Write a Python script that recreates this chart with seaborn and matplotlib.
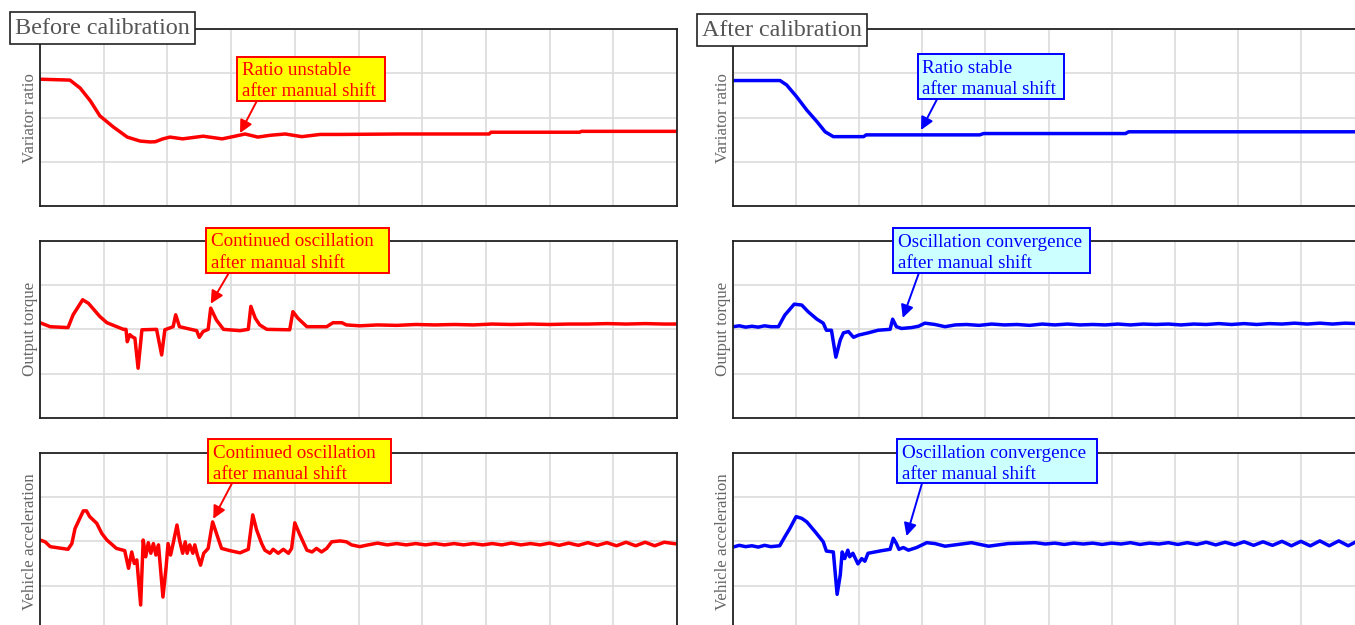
import matplotlib
matplotlib.use("Agg")
import matplotlib.pyplot as plt
from matplotlib.patches import Rectangle
import seaborn as sns
import pandas as pd

# ---------------- data (time in s, values in grid units) ----------------
before_ratio_t = [0, 0.47, 0.63, 0.79, 0.94, 1.15, 1.37, 1.57, 1.73, 1.81, 1.93, 2.04, 2.24, 2.56,
                  2.86, 3.06, 3.22, 3.42, 3.61, 3.85, 4.11, 4.40, 4.71, 5.65, 7.05, 7.08, 8.47, 8.50, 10.0]
before_ratio_v = [2.87, 2.85, 2.67, 2.38, 2.04, 1.79, 1.56, 1.47, 1.45, 1.455, 1.52, 1.56, 1.52, 1.58,
                  1.52, 1.58, 1.63, 1.56, 1.60, 1.63, 1.57, 1.62, 1.62, 1.63, 1.63, 1.67, 1.67, 1.69, 1.69]

before_torque_t = [0, 0.16, 0.44, 0.52, 0.67, 0.76, 0.94, 1.05, 1.31, 1.35, 1.37, 1.41, 1.45, 1.49, 1.54,
                   1.60, 1.83, 1.91, 1.96, 2.09, 2.13, 2.19, 2.46, 2.50, 2.56, 2.64, 2.68, 2.77, 2.88,
                   3.14, 3.27, 3.31, 3.38, 3.45, 3.56, 3.92, 3.97, 4.05, 4.19, 4.50, 4.60, 4.74, 4.81,
                   5.02, 5.3, 5.6, 5.9, 6.2, 6.5, 6.8, 7.1, 7.4, 7.7, 8.0, 8.3, 8.6, 8.9, 9.2, 9.5, 9.8, 10.0]
before_torque_v = [2.15, 2.06, 2.04, 2.33, 2.67, 2.59, 2.29, 2.15, 2.00, 2.00, 1.72, 1.88, 1.83, 1.80, 1.12,
                   1.99, 2.00, 1.42, 1.99, 2.06, 2.33, 2.06, 1.97, 1.82, 1.95, 2.00, 2.48, 2.21, 2.00,
                   1.97, 2.00, 2.52, 2.25, 2.10, 2.00, 1.99, 2.40, 2.25, 2.06, 2.06, 2.15, 2.15, 2.10,
                   2.08, 2.10, 2.09, 2.11, 2.10, 2.11, 2.10, 2.12, 2.11, 2.12, 2.11, 2.12, 2.12, 2.13, 2.12, 2.13, 2.12, 2.12]

before_accel_t = [0, 0.08, 0.16, 0.44, 0.50, 0.55, 0.68, 0.73, 0.78, 0.89, 0.97, 1.05, 1.20, 1.33, 1.39,
                  1.44, 1.48, 1.52, 1.58, 1.62, 1.66, 1.70, 1.74, 1.78, 1.82, 1.86, 1.93, 1.98, 2.01,
                  2.05, 2.09, 2.15, 2.19, 2.24, 2.28, 2.31, 2.35, 2.40, 2.43, 2.47, 2.52, 2.57, 2.64,
                  2.71, 2.77, 2.85, 2.98, 3.14, 3.27, 3.34, 3.40, 3.48, 3.53, 3.61, 3.66, 3.74, 3.82,
                  3.90, 3.95, 4.00, 4.07, 4.13, 4.19, 4.27, 4.34, 4.42, 4.50, 4.58, 4.71, 4.81, 4.89,
                  5.02, 5.15, 5.3, 5.45, 5.6, 5.75, 5.9, 6.05, 6.2, 6.35, 6.5, 6.65, 6.8, 6.95, 7.1,
                  7.25, 7.4, 7.55, 7.7, 7.85, 8.0, 8.15, 8.3, 8.45, 8.6, 8.75, 8.9, 9.05, 9.2, 9.35,
                  9.5, 9.65, 9.8, 10.0]
before_accel_v = [2.03, 1.99, 1.88, 1.82, 1.95, 2.29, 2.69, 2.69, 2.56, 2.41, 2.18, 2.03, 1.84, 1.79, 1.39,
                  1.76, 1.50, 1.58, 0.56, 2.03, 1.65, 1.97, 1.73, 1.95, 1.69, 1.92, 0.74, 1.42, 1.95,
                  1.69, 1.95, 2.37, 2.03, 1.73, 1.99, 1.73, 1.92, 1.73, 1.92, 1.69, 1.46, 1.73, 1.84,
                  2.44, 2.18, 1.84, 1.79, 1.74, 1.82, 2.60, 2.26, 1.95, 1.80, 1.73, 1.82, 1.73, 1.82,
                  1.73, 1.84, 2.42, 2.18, 1.99, 1.80, 1.76, 1.84, 1.76, 1.84, 1.99, 2.01, 1.99, 1.92,
                  1.88, 1.92, 1.96, 1.92, 1.95, 1.92, 1.95, 1.92, 1.95, 1.92, 1.95, 1.92, 1.95, 1.92, 1.95,
                  1.92, 1.96, 1.92, 1.95, 1.92, 1.96, 1.91, 1.96, 1.91, 1.97, 1.91, 1.97, 1.90, 1.98, 1.90,
                  1.98, 1.90, 1.98, 1.94]

after_ratio_t = [0, 0.745, 0.85, 1.01, 1.17, 1.33, 1.46, 1.59, 2.07, 2.11, 3.91, 3.97, 6.22, 6.27, 10.0]
after_ratio_v = [2.84, 2.84, 2.74, 2.47, 2.17, 1.91, 1.68, 1.57, 1.57, 1.61, 1.61, 1.64, 1.64, 1.68, 1.68]

after_torque_t = [0, 0.1, 0.2, 0.3, 0.4, 0.5, 0.6, 0.72, 0.82, 0.97, 1.09, 1.19, 1.33, 1.43, 1.48, 1.56,
                  1.63, 1.70, 1.75, 1.83, 1.91, 1.99, 2.14, 2.30, 2.49, 2.53, 2.59, 2.67, 2.83, 2.94,
                  3.04, 3.20, 3.36, 3.52, 3.7, 3.9, 4.1, 4.3, 4.5, 4.7, 4.9, 5.1, 5.3, 5.5, 5.7, 5.9,
                  6.1, 6.3, 6.5, 6.7, 6.9, 7.1, 7.3, 7.5, 7.7, 7.9, 8.1, 8.3, 8.5, 8.7, 8.9, 9.1, 9.3,
                  9.5, 9.7, 9.9, 10.0]
after_torque_v = [2.06, 2.08, 2.05, 2.07, 2.05, 2.08, 2.06, 2.06, 2.32, 2.57, 2.55, 2.40, 2.23, 2.14, 1.98, 1.98,
                  1.37, 1.76, 1.92, 1.95, 1.82, 1.87, 1.92, 1.98, 2.00, 2.23, 2.06, 2.02, 2.04, 2.07,
                  2.14, 2.11, 2.06, 2.10, 2.11, 2.09, 2.12, 2.10, 2.11, 2.09, 2.12, 2.10, 2.12, 2.10, 2.11, 2.10,
                  2.12, 2.10, 2.12, 2.11, 2.12, 2.10, 2.12, 2.11, 2.13, 2.11, 2.13, 2.11, 2.13, 2.12, 2.14, 2.12, 2.14,
                  2.12, 2.14, 2.13, 2.13]

after_accel_t = [0, 0.1, 0.2, 0.3, 0.4, 0.5, 0.6, 0.74, 0.82, 0.90, 1.00, 1.09, 1.17, 1.30, 1.43, 1.48,
                 1.59, 1.65, 1.70, 1.73, 1.77, 1.82, 1.85, 1.90, 1.98, 2.04, 2.09, 2.14, 2.25, 2.36,
                 2.49, 2.54, 2.59, 2.63, 2.70, 2.78, 2.91, 3.07, 3.20, 3.36, 3.52, 3.78, 4.05, 4.36,
                 4.79, 4.95, 5.1, 5.25, 5.4, 5.55, 5.7, 5.85, 6.0, 6.15, 6.3, 6.45, 6.6, 6.75, 6.9,
                 7.05, 7.2, 7.35, 7.5, 7.65, 7.8, 7.95, 8.1, 8.25, 8.4, 8.55, 8.7, 8.85, 9.0, 9.15,
                 9.3, 9.45, 9.6, 9.75, 9.9, 10.0]
after_accel_v = [1.87, 1.91, 1.88, 1.90, 1.87, 1.91, 1.88, 1.90, 2.10, 2.29, 2.56, 2.52, 2.44, 2.22, 1.99, 1.78,
                 1.76, 0.80, 1.24, 1.76, 1.61, 1.80, 1.65, 1.73, 1.49, 1.61, 1.55, 1.73, 1.76, 1.79,
                 1.82, 2.07, 1.95, 1.82, 1.86, 1.80, 1.86, 1.97, 1.95, 1.89, 1.92, 1.97, 1.89, 1.95,
                 1.97, 1.94, 1.96, 1.93, 1.96, 1.94, 1.96, 1.93, 1.96, 1.94, 1.97, 1.93, 1.96, 1.94, 1.97,
                 1.93, 1.97, 1.93, 1.98, 1.92, 1.98, 1.92, 1.99, 1.91, 1.99, 1.91, 2.00, 1.90, 2.00, 1.90,
                 2.01, 1.90, 2.01, 1.90, 2.01, 1.95]

row_labels = ["Variator ratio", "Output torque", "Vehicle acceleration"]
column_titles = ["Before calibration", "After calibration"]
notes_before = [("Ratio unstable", "after manual shift"),
                ("Continued oscillation", "after manual shift"),
                ("Continued oscillation", "after manual shift")]
notes_after = [("Ratio stable", "after manual shift"),
               ("Oscillation convergence", "after manual shift"),
               ("Oscillation convergence", "after manual shift")]
# arrow targets (time, value)
targets_before = [(3.14, 1.65), (2.68, 2.58), (2.72, 2.51)]
targets_after = [(2.98, 1.72), (2.69, 2.26), (2.75, 2.12)]

# ---------------- style ----------------
sns.set_theme(style="whitegrid")
plt.rcParams["font.family"] = ["Liberation Serif", "DejaVu Serif"]

W, H = 1355, 625
fig = plt.figure(figsize=(W / 100, H / 100), dpi=100)


def make_axes(x0, y_top, w, h):
    return fig.add_axes([x0 / W, (H - y_top - h) / H, w / W, h / H])


col_x = [(40, 637), (733, 631)]
row_y = [29.3, 241, 453]
row_h = 176.7

series = [
    [(before_ratio_t, before_ratio_v), (before_torque_t, before_torque_v), (before_accel_t, before_accel_v)],
    [(after_ratio_t, after_ratio_v), (after_torque_t, after_torque_v), (after_accel_t, after_accel_v)],
]
colors = ["#ff0000", "#0000ff"]
box_face = ["#ffff00", "#ccffff"]
notes = [notes_before, notes_after]
targets = [targets_before, targets_after]
# boxes in image pixels: (left, top, right, bottom), and arrow start x
boxes = [[(237, 56.5, 385, 100.7), (205.7, 228, 389.3, 272.7), (208.3, 439.3, 390.7, 483.3)],
         [(917.5, 54.3, 1064, 99.3), (893.3, 228.5, 1090, 272.7), (896.7, 439, 1097, 483.3)]]
arrow_x0 = [[257, 229, 232], [937, 919, 922]]

fs_note = 13.7

for c in range(2):
    for r in range(3):
        ax = make_axes(col_x[c][0], row_y[r], col_x[c][1], row_h)
        t, v = series[c][r]
        df = pd.DataFrame({"t": t, "v": v})
        sns.lineplot(data=df, x="t", y="v", ax=ax, color=colors[c], linewidth=2.5,
                     estimator=None, sort=False)
        ax.set_xlim(0, 10)
        ax.set_ylim(0, 4)
        ax.set_xticks(range(0, 11))
        ax.set_yticks(range(0, 5))
        ax.set_xticklabels([])
        ax.set_yticklabels([])
        ax.tick_params(length=0)
        ax.grid(True, color="#dcdcdc", linewidth=1.2)
        ax.set_xlabel("")
        ax.set_ylabel(row_labels[r], fontsize=12.2, color="#666666")
        ax.yaxis.set_label_coords(-0.003, 0.5)
        for s in ax.spines.values():
            s.set_color("#222222")
            s.set_linewidth(1.3)

        l, tp, rt, bt = boxes[c][r]
        # arrow from box bottom edge to the curve
        ax.annotate("", xy=targets[c][r], xycoords="data",
                    xytext=(arrow_x0[c][r], H - bt), textcoords="figure pixels",
                    arrowprops=dict(arrowstyle="-|>", color=colors[c], lw=1.4,
                                    mutation_scale=19, shrinkA=0, shrinkB=0),
                    annotation_clip=False)
        # note box
        fig.add_artist(Rectangle((l / W, (H - bt) / H), (rt - l) / W, (bt - tp) / H,
                                 transform=fig.transFigure, facecolor=box_face[c],
                                 edgecolor=colors[c], linewidth=1.4, zorder=4))
        line1, line2 = notes[c][r]
        fig.text((l + 5) / W, (H - tp - 18.5) / H, line1, fontsize=fs_note, color=colors[c],
                 ha="left", va="baseline", zorder=5)
        fig.text((l + 5) / W, (H - tp - 40) / H, line2, fontsize=fs_note, color=colors[c],
                 ha="left", va="baseline", zorder=5)

# column title boxes
fig.text(15 / W, 1 - 28 / H, column_titles[0], fontsize=17.4, color="#555555",
         ha="left", va="center", zorder=5,
         bbox=dict(boxstyle="square,pad=0.22", fc="white", ec="#222222", lw=1.2))
fig.text(702 / W, 1 - 30 / H, column_titles[1], fontsize=17.4, color="#555555",
         ha="left", va="center", zorder=5,
         bbox=dict(boxstyle="square,pad=0.22", fc="white", ec="#222222", lw=1.2))

fig.savefig("out.png", dpi=100, facecolor="white")
